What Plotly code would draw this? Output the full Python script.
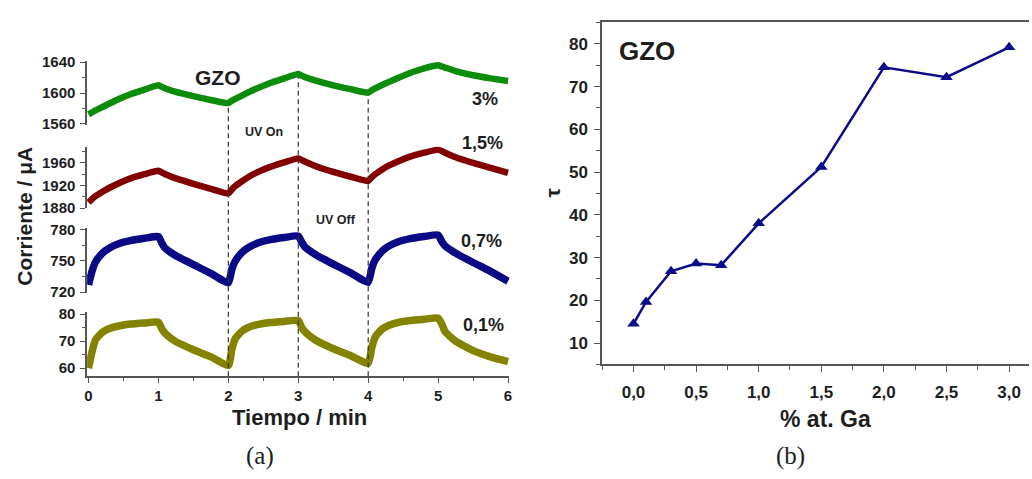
import plotly.graph_objects as go

W, H = 1032, 479

# ---- (a) photocurrent vs time, four Ga contents ----
tiempo = [0.0, 0.05, 0.1, 0.2, 0.3, 0.45, 0.6, 0.8, 1.0, 1.05, 1.1, 1.25, 1.5, 1.75,
          2.0, 2.05, 2.1, 2.2, 2.3, 2.45, 2.6, 2.8, 3.0, 3.05, 3.1, 3.25, 3.5, 3.75,
          4.0, 4.05, 4.1, 4.2, 4.3, 4.45, 4.6, 4.8, 5.0, 5.05, 5.1, 5.25, 5.5, 5.75,
          6.0]

i_3 = [1572.5, 1575, 1577.5, 1582, 1586.5, 1593, 1598.5, 1604.5, 1610, 1608, 1606, 1601.5, 1596, 1591,
       1587, 1590, 1592.5, 1597, 1601.5, 1607.5, 1613, 1619, 1624.5, 1622.5, 1620.5, 1616, 1610, 1605,
       1600.5, 1603.5, 1606, 1610.5, 1614.5, 1620.5, 1626, 1632, 1636, 1634.5, 1633, 1628.5, 1623, 1619,
       1615.5]

i_15 = [1890, 1896, 1901, 1909, 1916, 1925, 1932.5, 1940, 1946, 1943, 1940, 1932.5, 1923, 1914,
        1906, 1913, 1919, 1928, 1936, 1945.5, 1953, 1961, 1968, 1965, 1962, 1954, 1944, 1935.5,
        1928, 1934.5, 1940, 1948.5, 1955.5, 1964, 1971, 1978, 1983.5, 1981, 1978, 1970, 1960, 1951,
        1942.5]

i_07 = [727, 740, 749, 757.5, 762.5, 767, 769.5, 771.8, 773.5, 767, 762, 755, 746.5, 738,
        729, 742, 750, 758.5, 763.5, 768, 770.5, 772.5, 774, 768, 763, 756, 747, 738.5,
        729.5, 742.5, 751, 759.5, 764.5, 769, 771.5, 773.5, 775, 769, 764.5, 757.5, 748.5, 740,
        730.5]

i_01 = [60, 66, 70.5, 73.3, 74.7, 75.7, 76.3, 76.7, 77, 74.5, 72.8, 69.8, 66.8, 64.2,
        61, 67, 71, 73.8, 75.2, 76.3, 76.9, 77.3, 77.6, 75, 73.3, 70.3, 67.2, 64.6,
        61.8, 67.5, 71.5, 74.5, 75.9, 77, 77.6, 78.1, 78.5, 76.5, 73.5, 70, 66.5, 64.2,
        62.4]

etiquetas = ["3%", "1,5%", "0,7%", "0,1%"]
colores = ["#0b8c0b", "#820000", "#0a0a86", "#838300"]
rangos_y = [[1558.75, 1641.25], [1879.5, 1989], [719, 782], [57, 80.6]]
ticks_y = [dict(tick0=1560, dtick=40, minor=20),
           dict(tick0=1880, dtick=40, minor=20),
           dict(tick0=720, dtick=30, minor=15),
           dict(tick0=60, dtick=10, minor=5)]
cambios_uv = [2, 3, 4]

# ---- (b) time constant vs Ga content ----
ga = [0.0, 0.1, 0.3, 0.5, 0.7, 1.0, 1.5, 2.0, 2.5, 3.0]
tau = [14.5, 19.6, 26.8, 28.6, 28.2, 38.0, 51.2, 74.5, 72.2, 79.2]


def px_x(p):
    return p / W


def px_y(p):
    return 1 - p / H


# panel geometry in pixels
x_izq = [px_x(84.6), px_x(509.4)]
bandas_px = [(55, 121), (143.3, 207.3), (227.3, 295), (315, 381)]
dom_y = [[px_y(b), px_y(a)] for a, b in bandas_px]
x_der = [px_x(602.7), 1.0]
y_der = [px_y(368.7), px_y(15)]

AX = "#555555"
TXT = "#1e1e1e"
FONT = "Liberation Sans"

fig = go.Figure()
series = [i_3, i_15, i_07, i_01]
anchos = [6.5, 6.5, 7.5, 7.5]
for k, (vals, col, w) in enumerate(zip(series, colores, anchos)):
    n = "" if k == 0 else str(k + 1)
    fig.add_trace(go.Scatter(x=tiempo, y=vals, mode="lines",
                             line=dict(color=col, width=w, shape="spline", smoothing=0.5),
                             xaxis="x" + n, yaxis="y" + n,
                             showlegend=False, hoverinfo="skip"))

fig.add_trace(go.Scatter(x=ga, y=tau, mode="lines+markers",
                         line=dict(color="#0c0c8a", width=2.5),
                         marker=dict(symbol="triangle-up", size=11, color="#0c0c8a"),
                         xaxis="x5", yaxis="y5", showlegend=False))

layout = dict(width=W, height=H, margin=dict(l=0, r=0, t=0, b=0),
              paper_bgcolor="white", plot_bgcolor="white",
              font=dict(family=FONT, color=TXT))

for k in range(4):
    n = "" if k == 0 else str(k + 1)
    idx = "" if k == 0 else str(k + 1)
    ultimo = k == 3
    layout["xaxis" + idx] = dict(
        domain=x_izq, range=[-0.02, 6.02], anchor="y" + n,
        showgrid=False, zeroline=False,
        showline=ultimo, linecolor=AX, linewidth=1.5,
        showticklabels=ultimo, tickmode="linear", tick0=0, dtick=1,
        ticks="outside" if ultimo else "", ticklen=5, tickcolor=AX, tickwidth=1.3,
        minor=dict(dtick=0.5, ticks="outside" if ultimo else "", ticklen=3,
                   tickcolor=AX, tickwidth=1.2),
        tickfont=dict(family=FONT, size=15, weight="bold", color=TXT),
        matches=None if ultimo else "x4",
    )
    tk = ticks_y[k]
    layout["yaxis" + idx] = dict(
        domain=dom_y[k], range=rangos_y[k], anchor="x" + n,
        showgrid=False, zeroline=False,
        showline=True, linecolor=AX, linewidth=1.5,
        tickmode="linear", tick0=tk["tick0"], dtick=tk["dtick"],
        ticks="outside", ticklen=5, tickcolor=AX, tickwidth=1.3,
        minor=dict(dtick=tk["minor"], ticks="outside", ticklen=3,
                   tickcolor=AX, tickwidth=1.2),
        tickfont=dict(family=FONT, size=15, weight="bold", color=TXT),
        ticklabelstandoff=2,
    )

layout["xaxis5"] = dict(
    domain=x_der, range=[-0.25, 3.159], anchor="y5",
    showgrid=False, zeroline=False,
    showline=True, mirror=True, linecolor=AX, linewidth=1.5,
    tickmode="array", tickvals=[0, 0.5, 1, 1.5, 2, 2.5, 3],
    ticktext=["0,0", "0,5", "1,0", "1,5", "2,0", "2,5", "3,0"],
    ticks="outside", ticklen=6, tickcolor=AX, tickwidth=1.3,
    minor=dict(tickvals=[-0.25, 0.25, 0.75, 1.25, 1.75, 2.25, 2.75],
               ticks="outside", ticklen=4, tickcolor=AX, tickwidth=1.2),
    tickfont=dict(family=FONT, size=17, weight="bold", color=TXT),
    ticklabelstandoff=5,
)
layout["yaxis5"] = dict(
    domain=y_der, range=[5, 85], anchor="x5",
    showgrid=False, zeroline=False,
    showline=True, linecolor=AX, linewidth=1.5,
    tickmode="linear", tick0=10, dtick=10,
    ticks="outside", ticklen=6, tickcolor=AX, tickwidth=1.3,
    minor=dict(dtick=5, ticks="outside", ticklen=4, tickcolor=AX, tickwidth=1.2),
    tickfont=dict(family=FONT, size=17, weight="bold", color=TXT),
    ticklabelstandoff=3,
)
fig.update_layout(**layout)

# dashed UV on/off markers: from the 3% curve down to the time axis
gr, gd = rangos_y[0], dom_y[0]
shapes = []
for t in cambios_uv:
    v = i_3[tiempo.index(float(t))]
    y_top = gd[0] + (v - gr[0]) / (gr[1] - gr[0]) * (gd[1] - gd[0])
    shapes.append(dict(type="line", xref="x4", yref="paper", x0=t, x1=t,
                       y0=dom_y[3][0], y1=y_top - 0.006,
                       line=dict(color="#333333", width=1.2, dash="5px,3.5px")))
fig.update_layout(shapes=shapes)


def nota(texto, x, y, size, bold=True, angle=0, family=FONT, xanchor="center"):
    return dict(text=texto, x=px_x(x), y=px_y(y), xref="paper", yref="paper",
                showarrow=False, textangle=angle, xanchor=xanchor, yanchor="middle",
                font=dict(family=family, size=size, color=TXT,
                          weight="bold" if bold else "normal"))


anots = [
    nota("GZO", 216, 72, 21),
    nota("UV On", 263, 128, 12.5),
    nota("UV Off", 335, 219, 12.5),
    nota("Corriente / μA", 22, 215, 21, angle=-90),
    nota("Tiempo / min", 298, 424, 22),
    nota("(a)", 259, 463, 25, bold=False, family="Liberation Serif"),
    nota("GZO", 648, 44, 26),
    nota("τ", 553, 191, 21, angle=-90),
    nota("% at. Ga", 827, 425, 23),
    nota("(b)", 792, 463, 25, bold=False, family="Liberation Serif"),
]
pos_etq = [(485, 94), (482, 140), (481, 241), (483, 328)]
for txt, (x, y) in zip(etiquetas, pos_etq):
    anots.append(nota(txt, x, y, 18))
fig.update_layout(annotations=anots)

fig.write_html("out.html")
